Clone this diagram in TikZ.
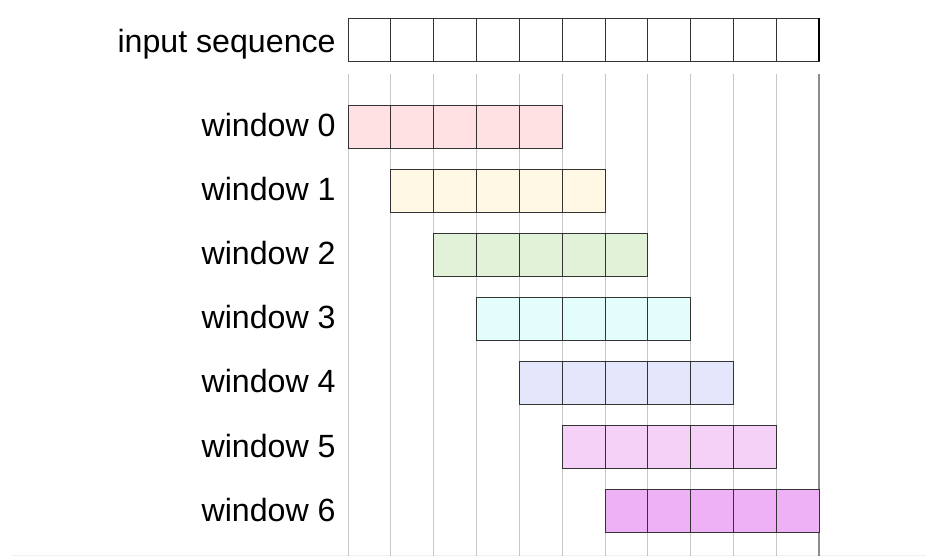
\documentclass[tikz,border=0pt]{standalone}
\usepackage{fontspec}
\setmainfont{Liberation Sans}
\definecolor{winA}{HTML}{FFE0E3}
\definecolor{winB}{HTML}{FFF8E5}
\definecolor{winC}{HTML}{E2F2D8}
\definecolor{winD}{HTML}{E3FDFD}
\definecolor{winE}{HTML}{E4E6FC}
\definecolor{winF}{HTML}{F5D1F8}
\definecolor{winG}{HTML}{EFB1F5}
\begin{document}
\begin{tikzpicture}[x=0.02cm,y=0.02cm,
  every node/.style={font=\fontsize{18.3}{22}\selectfont,inner sep=0pt,anchor=base east}]
\useasboundingbox (0,0) rectangle (926,556);
\draw[black!6] (12,1) -- (926,1);
% guide lines
\foreach \i in {0,...,10} {
    \draw[gray!45] ({348+\i*42.82},0) -- ({348+\i*42.82},482);
}
\draw[gray!90,thick] (819,0) -- (819,482);
% input sequence
\foreach \i in {0,...,10} {
    \draw[black!80] ({348+\i*42.82},495) rectangle +(42.82,43);
}
\draw[black,thick] (819,495) -- (819,538);
\node (input) at (336,504) {input sequence};
% windows
\foreach \k/\c in {0/winA,1/winB,2/winC,3/winD,4/winE,5/winF,6/winG} {
    \foreach \i in {0,...,4} {
        \draw[black!80,fill=\c] ({348+(\k+\i)*42.82},{408-64*\k}) rectangle +(42.82,43);
    }
    \node (win\k) at (336,{420-64.2*\k}) {window \k};
}
\end{tikzpicture}
\end{document}
